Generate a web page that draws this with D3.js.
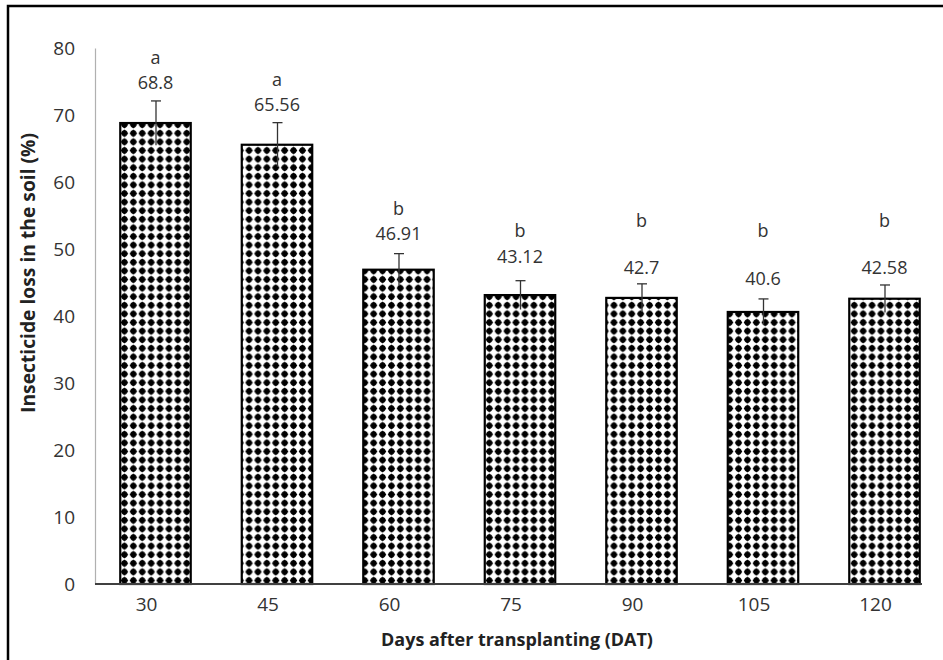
<!DOCTYPE html>
<html><head><meta charset="utf-8">
<script src="https://cdn.jsdelivr.net/npm/d3@7"></script>
<style>body{margin:0;background:#fff}svg{display:block}</style>
</head><body>
<script>
const categories = ["30","45","60","75","90","105","120"];
const values = [68.8, 65.56, 46.91, 43.12, 42.7, 40.6, 42.58];
const errors = [3.3, 3.3, 2.4, 2.15, 2.1, 1.95, 2.05];
const letters = ["a","a","b","b","b","b","b"];
const valueLabels = ["68.8","65.56","46.91","43.12","42.7","40.6","42.58"];
const yTicks = [0,10,20,30,40,50,60,70,80];

const W = 943, H = 660;
const svg = d3.select("body").append("svg").attr("width", W).attr("height", H);
const font = "'Open Sans', 'Noto Sans', sans-serif";

const defs = svg.append("defs");
const pat = defs.append("pattern").attr("id","dots").attr("patternUnits","userSpaceOnUse")
  .attr("width",8.9).attr("height",8.6).attr("x",120).attr("y",0);
pat.append("rect").attr("width",8.9).attr("height",8.6).attr("fill","#fff");
pat.append("circle").attr("cx",4.45).attr("cy",4.3).attr("r",3.0).attr("fill","#000");
pat.append("path").attr("d","M4.45,0.5 L8.2,4.3 L4.45,8.1 L0.7,4.3Z").attr("fill","#000");

// frame
svg.append("rect").attr("x",8).attr("y",6).attr("width",960).attr("height",700)
  .attr("fill","none").attr("stroke","#000").attr("stroke-width",2.5);

const y = d3.scaleLinear().domain([0,80]).range([584,48]);
const x = d3.scaleBand().domain(categories).range([94.75,945.25]).paddingInner(0.42).paddingOuter(0.21);

// y axis
const ya = svg.append("g").attr("transform","translate(95,0)")
  .call(d3.axisLeft(y).tickValues(yTicks).tickSize(0).tickPadding(20));
ya.select(".domain").attr("stroke","#b0b0b0").attr("stroke-width",1.2);
ya.selectAll("text").attr("font-family",font).attr("font-size",19).attr("fill","#333");

// bars
svg.append("g").selectAll("rect").data(values).join("rect")
  .attr("x",(d,i)=>x(categories[i]))
  .attr("y",d=>y(d))
  .attr("width",x.bandwidth())
  .attr("height",d=>y(0)-y(d))
  .attr("fill","url(#dots)")
  .attr("stroke","#000").attr("stroke-width",2.2);

// x axis
const xa = svg.append("g").attr("transform","translate(0,584)")
  .call(d3.axisBottom(x).tickSize(0).tickPadding(14));
xa.select(".domain").remove();
xa.append("line").attr("x1",95).attr("x2",922).attr("y1",0).attr("y2",0)
  .attr("stroke","#404040").attr("stroke-width",2);
xa.selectAll("text").attr("font-family",font).attr("font-size",19).attr("fill","#333").attr("dx",-9);

// error bars
const eb = svg.append("g").attr("stroke","#333").attr("stroke-width",1.3);
values.forEach((v,i)=>{
  const c = x(categories[i]) + x.bandwidth()/2 + 0.5;
  eb.append("line").attr("x1",c).attr("x2",c).attr("y1",y(v+errors[i])).attr("y2",y(v-errors[i]));
  eb.append("line").attr("x1",c-5).attr("x2",c+5).attr("y1",y(v+errors[i])).attr("y2",y(v+errors[i]));
});

// labels
const valOffset = [18, 18, 20, 24, 16, 20, 17];
const letOffset = [25, 25, 25, 26, 47, 48, 47];
const lab = svg.append("g").attr("font-family",font).attr("font-size",18).attr("fill","#333").attr("text-anchor","middle");
values.forEach((v,i)=>{
  const cx = x(categories[i]) + x.bandwidth()/2;
  const vy = y(v+errors[i]) - valOffset[i];
  lab.append("text").attr("x",cx).attr("y",vy).attr("dy","0.35em").text(valueLabels[i]);
  lab.append("text").attr("x",cx).attr("y",vy-letOffset[i]).attr("dy","0.35em").text(letters[i]);
});

// axis titles (sized to fit measured lengths)
function fit(sel, target){
  const base = 18;
  sel.attr("font-size", base);
  const len = sel.node().getComputedTextLength();
  sel.attr("font-size", base*target/len);
}
const xt = svg.append("text").attr("x",517).attr("y",646).attr("text-anchor","middle")
  .attr("font-family",font).attr("font-weight","bold").attr("fill","#222")
  .text("Days after transplanting  (DAT)");
fit(xt, 272);
const yt = svg.append("text").attr("transform","translate(35,273) rotate(-90)").attr("text-anchor","middle")
  .attr("font-family",font).attr("font-weight","bold").attr("fill","#222")
  .text("Insecticide loss in the soil (%)");
fit(yt, 280);
</script>
</body></html>
